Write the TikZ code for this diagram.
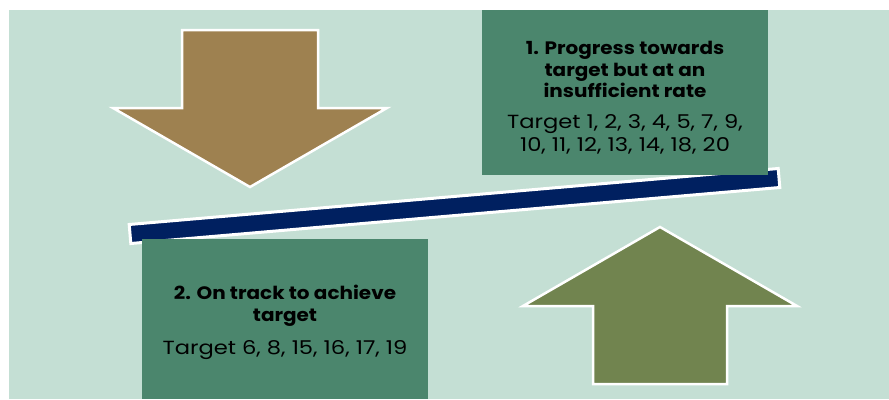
\documentclass[tikz,border=0pt]{standalone}
\usepackage{fontspec}
\setmainfont{Poppins}
\newfontfamily\titlefont[FakeStretch=1.11]{Poppins}
\newfontfamily\bodyfont[FakeStretch=1.19]{Poppins}
\definecolor{bgc}{HTML}{C4DFD4}
\definecolor{boxc}{HTML}{4B866D}
\definecolor{tanc}{HTML}{9E8150}
\definecolor{olivec}{HTML}{71844F}
\definecolor{navyc}{HTML}{002060}
\tikzset{
  arrowshape/.style={draw=white, line width=2.5pt, line join=miter},
  boxshape/.style={fill=boxc, draw=none},
  titletext/.style={align=center, font=\titlefont\fontsize{18}{21.5}\selectfont\bfseries, text=black, inner sep=0pt},
  bodytext/.style={align=center, font=\bodyfont\fontsize{19}{23}\selectfont, text=black, inner sep=0pt}
}
\begin{document}
\begin{tikzpicture}[x=1pt, y=-1pt]
\useasboundingbox (0,0) rectangle (889,399);
\fill[white] (0,0) rectangle (889,399);
\fill[bgc] (9,10) rectangle (889,399);
% down arrow
\path[arrowshape, fill=tanc] (182,30) -- (318,30) -- (318,108) -- (387,108) -- (250,187) -- (113,108) -- (182,108) -- cycle;
% up arrow
\path[arrowshape, fill=olivec] (660,227) -- (797,306) -- (727,306) -- (727,384) -- (593,384) -- (593,306) -- (523,306) -- cycle;
% beam
\path[draw=white, line width=3pt, fill=navyc] (129.2,224.5) -- (778.2,168.5) -- (779.8,187.5) -- (130.8,243.5) -- cycle;
% boxes
\node[boxshape, minimum width=286pt, minimum height=165pt, anchor=north west, inner sep=0pt] (box1) at (482,10) {};
\node[boxshape, minimum width=286pt, minimum height=160pt, anchor=north west, inner sep=0pt] (box2) at (142,239) {};
\node[titletext, anchor=north] (t1) at (625,41) {1. Progress towards\\target but at an\\insufficient rate};
\node[bodytext, anchor=north] (b1) at (625,114) {Target 1, 2, 3, 4, 5, 7, 9,\\10, 11, 12, 13, 14, 18, 20};
\node[titletext, anchor=north] (t2) at (285,285) {2. On track to achieve\\target};
\node[bodytext, anchor=north] (b2) at (285,340) {Target 6, 8, 15, 16, 17, 19};
\end{tikzpicture}
\end{document}
